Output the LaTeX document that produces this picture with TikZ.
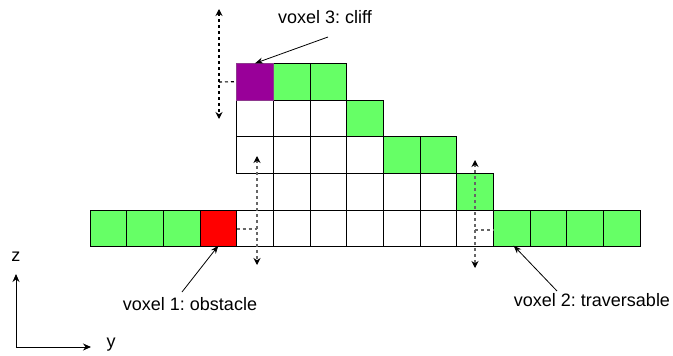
\documentclass[tikz,border=0pt]{standalone}
\usepackage{fontspec}
\setmainfont{Liberation Sans}
\usetikzlibrary{arrows.meta}
\definecolor{voxgreen}{HTML}{66FF66}
\definecolor{voxred}{HTML}{FF0000}
\definecolor{voxpurple}{HTML}{990099}
\frenchspacing
\begin{document}
\begin{tikzpicture}[x=1pt,y=-1pt,
  cell/.style={draw=black, line width=0.9pt, minimum size=36.667pt, inner sep=0pt, outer sep=0pt},
  lbl/.style={font=\fontsize{18}{20}\selectfont, inner sep=1pt},
  pointer/.style={line width=0.8pt, -{Stealth[length=8pt,width=6pt]}},
  probe/.style={line width=1.1pt, dash pattern=on 3pt off 3pt,
    {Stealth[length=7pt,width=7pt,color=black]}-{Stealth[length=7pt,width=7pt,color=black]}},
  probelink/.style={line width=1.1pt, dash pattern=on 3pt off 3pt},
  axis/.style={line width=0.9pt, -{Stealth[length=8pt,width=7pt]}}]
\useasboundingbox (0,0) rectangle (673,356);

% voxel column cells: col / row / fill
\foreach \c/\r/\f in {
  0/0/voxgreen, 1/0/voxgreen, 2/0/voxgreen, 3/0/voxred,
  4/0/white, 5/0/white, 6/0/white, 7/0/white, 8/0/white, 9/0/white, 10/0/white,
  11/0/voxgreen, 12/0/voxgreen, 13/0/voxgreen, 14/0/voxgreen,
  5/1/white, 6/1/white, 7/1/white, 8/1/white, 9/1/white, 10/1/voxgreen,
  4/2/white, 5/2/white, 6/2/white, 7/2/white, 8/2/voxgreen, 9/2/voxgreen,
  4/3/white, 5/3/white, 6/3/white, 7/3/voxgreen,
  5/4/voxgreen, 6/4/voxgreen}
  \node[cell, fill=\f] (c\c-\r) at ({108.333+36.667*\c},{228.333-36.667*\r}) {};
\node[cell, fill=voxpurple, draw=voxpurple!55!gray] (c4-4) at ({108.333+36.667*4},{228.333-36.667*4}) {};

% height probes
\coordinate (p3top) at (219,9);
\coordinate (p3bot) at (219,119);
\coordinate (p3mid) at (219,82);
\draw[probe] (p3top) -- (p3bot);
\draw[probelink] (p3mid) -- (c4-4.west);

\coordinate (p1top) at (257,156);
\coordinate (p1bot) at (257,265);
\coordinate (p1mid) at (257,229);
\draw[probe, draw=black!60] (p1top) -- (p1bot);
\draw[probelink, draw=black!60] (c4-0.west |- p1mid) -- (p1mid);

\coordinate (p2top) at (475,160);
\coordinate (p2bot) at (475,268);
\coordinate (p2mid) at (475,230);
\draw[probe, draw=black!60] (p2top) -- (p2bot);
\draw[probelink, draw=black!60] (p2mid) -- (c11-0.west |- p2mid);

% labels
\node[lbl] (l3) at (325,17) {voxel 3: cliff};
\node[lbl] (l1) at (190,304) {voxel 1: obstacle};
\node[lbl] (l2) at (592,300) {voxel 2: traversable};
\draw[pointer] (328,37) -- (c4-4.north);
\draw[pointer] (182,292) -- ([yshift=1pt]c3-0.south);
\draw[pointer] (557,291) -- ([xshift=2pt,yshift=1pt]c11-0.south);

% axes
\coordinate (o) at (16,347);
\coordinate (zend) at (16,274);
\coordinate (yend) at (91,347);
\draw[axis] (o) -- (zend);
\draw[axis] (o) -- (yend);
\node[lbl] (zl) at (16,257) {z};
\node[lbl] (yl) at (111,345) {y};
\end{tikzpicture}
\end{document}
